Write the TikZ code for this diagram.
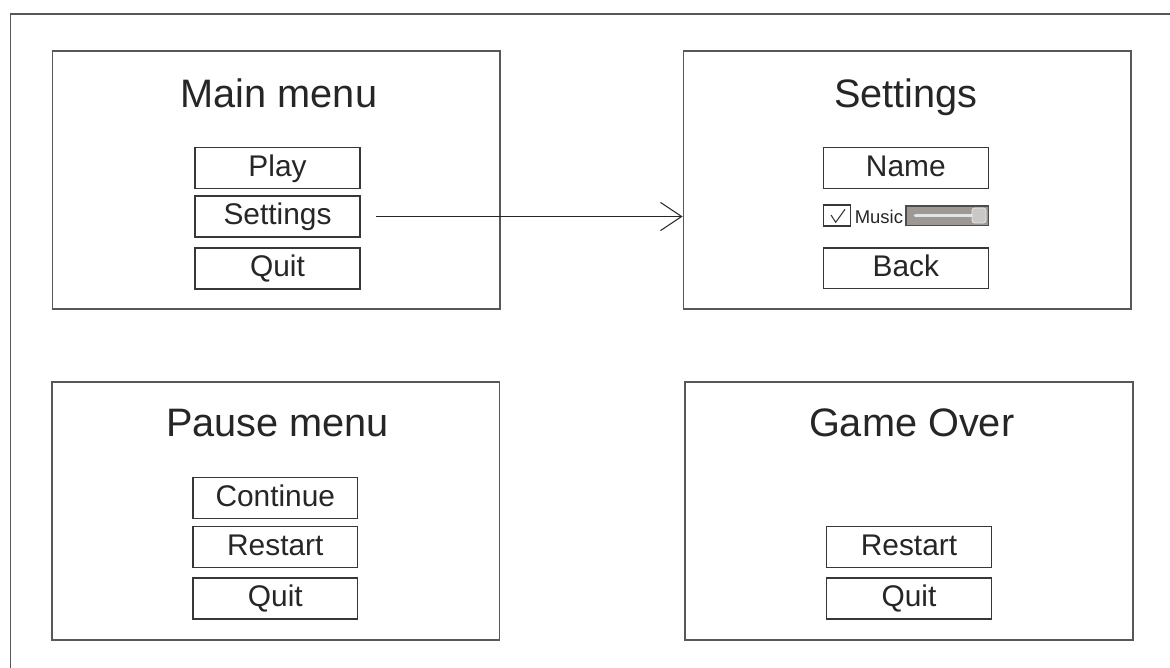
\documentclass[tikz,border=0pt]{standalone}
\usepackage{fontspec}
\setmainfont{Liberation Sans}
\usetikzlibrary{arrows.meta}
\definecolor{framegray}{RGB}{88,88,88}
\definecolor{btngray}{RGB}{55,55,55}
\definecolor{slidergray}{RGB}{158,152,148}
\definecolor{knobgray}{RGB}{202,200,198}
\definecolor{trackgray}{RGB}{228,228,228}
\tikzset{
  screen/.style={draw=framegray, line width=0.9pt, minimum width=8.96cm, minimum height=5.16cm, inner sep=0pt},
  title/.style={inner sep=0pt, text=black!85, font=\fontsize{22.6}{26}\selectfont},
  button/.style={draw=btngray, line width=0.8pt, minimum width=3.3cm, minimum height=0.82cm, inner sep=0pt,
    text height=12.2pt, text depth=2.7pt, text=black!85, font=\fontsize{17}{20}\selectfont}
}
\begin{document}
\begin{tikzpicture}[x=0.02cm,y=-0.02cm]
            \useasboundingbox (0,0) rectangle (1170,668);
            \fill [white] (0,0) rectangle (1170,668);
            \draw [framegray, line width=1.1pt] (10.5,668) |- (1170,14);
            % main menu
            \node [screen] (mainscr) at (276.3,180) {};
            \node [title, anchor=base] (maintitle) at (279,107.3) {Main menu};
            \node [button] (playbtn) at (277.5,168.2) {Play};
            \node [button] (setbtn) at (277.5,216.5) {Settings};
            \node [button] (quitbtn) at (277.5,268.5) {Quit};
            % settings
            \node [screen] (setscr) at (907.3,180) {};
            \node [title, anchor=base] (settitle) at (905.8,107.5) {Settings};
            \node [button] (namebtn) at (905.8,167.8) {Name};
            \node [button] (backbtn) at (905.8,268.3) {Back};
            \node [draw=btngray, line width=0.7pt, minimum width=0.55cm, minimum height=0.42cm, inner sep=0pt] (musicbox) at (837,215.5) {};
            \draw [btngray, line width=0.6pt] ([shift={(-6,-0.5)}]musicbox.center) -- ([shift={(-1.3,6.8)}]musicbox.center) -- ([shift={(8,-6.2)}]musicbox.center);
            \node [anchor=base west, inner sep=0pt, text=black!85, font=\fontsize{10.5}{12}\selectfont] (musiclbl) at (854.5,223.3) {Music};
            \node [draw=black!70, fill=slidergray, line width=0.8pt, minimum width=1.646cm, minimum height=0.386cm, inner sep=0pt] (slider) at (947.2,215.7) {};
            \draw [trackgray, line width=2pt, line cap=round] ([xshift=0.2cm]slider.west) -- ([xshift=-0.12cm]slider.east);
            \node [draw=white!85!gray, fill=knobgray, rounded corners=1.5pt, minimum width=0.28cm, minimum height=0.3cm, inner sep=0pt] (knob) at (979,215.5) {};
            % pause menu
            \node [screen] (pausescr) at (275.7,511) {};
            \node [title, anchor=base] (pausetitle) at (277.5,436.7) {Pause menu};
            \node [button] (contbtn) at (275.3,498.2) {Continue};
            \node [button] (prestbtn) at (275.3,546.8) {Restart};
            \node [button] (pquitbtn) at (275.3,598.5) {Quit};
            % game over
            \node [screen] (overscr) at (909,511) {};
            \node [title, anchor=base] (overtitle) at (911.7,436.7) {Game Over};
            \node [button] (orestbtn) at (909,546.8) {Restart};
            \node [button] (oquitbtn) at (909,598.5) {Quit};
            % navigation
            \draw [black!85, line width=0.6pt, -{Straight Barb[length=12pt,width=16pt]}] ([xshift=0.3cm]setbtn.east) -- (setbtn -| setscr.west);
        \end{tikzpicture}
\end{document}
